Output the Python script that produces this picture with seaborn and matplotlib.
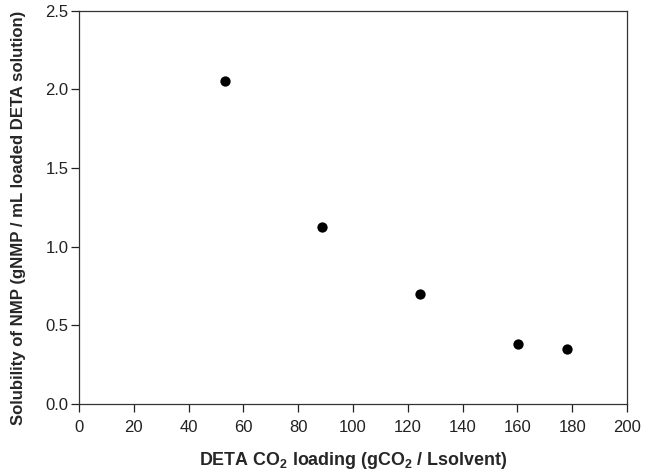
import numpy as np
import pandas as pd
import seaborn as sns
import matplotlib.pyplot as plt

# values
co2_loading = [53.3, 88.7, 124.3, 160.1, 178.1]
nmp_solubility = [2.053, 1.124, 0.700, 0.380, 0.347]

x_ticks = [0, 20, 40, 60, 80, 100, 120, 140, 160, 180, 200]
y_ticks = [0.0, 0.5, 1.0, 1.5, 2.0, 2.5]

sns.set_theme(style="ticks")
plt.rcParams['font.family'] = ['Liberation Sans', 'DejaVu Sans']
plt.rcParams['mathtext.fontset'] = 'custom'
plt.rcParams['mathtext.rm'] = 'Liberation Sans:bold'
plt.rcParams['mathtext.bf'] = 'Liberation Sans:bold'
plt.rcParams['mathtext.default'] = 'bf'

df = pd.DataFrame({"loading": co2_loading, "solubility": nmp_solubility})

fig = plt.figure(figsize=(6.54, 4.75), dpi=100)
ax = fig.add_axes([0.1208, 0.150, 0.8379, 0.8275])
sns.scatterplot(data=df, x="loading", y="solubility", ax=ax,
                color="black", s=55, edgecolor="black", linewidth=0)

ax.set_xlim(0, 200)
ax.set_ylim(0, 2.5)
ax.set_xticks(x_ticks)
ax.set_yticks(y_ticks)
ax.set_yticklabels([f"{v:.1f}" for v in y_ticks])
ax.tick_params(direction="out", length=5.5, width=0.9, labelsize=12,
               colors="#222222")
ax.tick_params(axis="x", pad=6)
ax.tick_params(axis="y", pad=2)
for sp in ax.spines.values():
    sp.set_visible(True)
    sp.set_color("#333333")
    sp.set_linewidth(0.9)

ax.set_xlabel(r"DETA CO$_2$ loading (gCO$_2$ / Lsolvent)", fontsize=12.9,
              fontweight="bold", labelpad=11)
ax.set_ylabel("Solubility of NMP (gNMP / mL loaded DETA solution)",
              fontsize=12.1, fontweight="bold")
ax.yaxis.set_label_coords(-0.096, 0.4725)

fig.savefig("out.png", dpi=100)
